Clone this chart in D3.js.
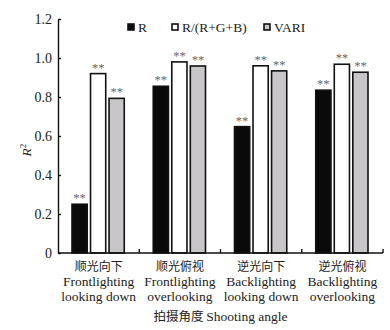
<!DOCTYPE html>
<meta charset="utf-8">
<head>
  <title>R2 by shooting angle</title>
  <script src="https://cdn.jsdelivr.net/npm/d3@7"></script>
  <style>
    body {margin: 0; background: #fff;}
    text {font-family: "Liberation Serif", "Times New Roman", serif;}
    .cjk {font-family: "Noto Sans CJK SC", sans-serif;}
  </style>
</head>
<body>
<div id="chart"></div>
<script>
// data
var categoriesCn = ["顺光向下", "顺光俯视", "逆光向下", "逆光俯视"];
var categoriesEn1 = ["Frontlighting", "Frontlighting", "Backlighting", "Backlighting"];
var categoriesEn2 = ["looking down", "overlooking", "looking down", "overlooking"];
var seriesNames = ["R", "R/(R+G+B)", "VARI"];
var valuesR = [0.25, 0.855, 0.648, 0.835];
var valuesRatio = [0.92, 0.98, 0.96, 0.968];
var valuesVARI = [0.793, 0.959, 0.934, 0.927];
var yTicks = [0, 0.2, 0.4, 0.6, 0.8, 1.0, 1.2];

var colors = ["#0a0a0a", "#ffffff", "#c8c6c8"];

var margins = {top: 19, right: 7, bottom: 77, left: 58};
var width = 390, height = 330;
var innerW = width - margins.left - margins.right;
var innerH = height - margins.top - margins.bottom;

var svg = d3.select("#chart").append("svg")
    .attr("width", width).attr("height", height);
var g = svg.append("g")
    .attr("transform", "translate(" + margins.left + "," + margins.top + ")");

var x = d3.scaleBand().domain(d3.range(categoriesCn.length)).range([0, innerW]).padding(0);
var x1 = d3.scaleBand().domain(seriesNames).range([14, x.bandwidth() - 15]).paddingInner(0.18);
var y = d3.scaleLinear().domain([0, 1.2]).range([innerH, 0]);

var series = [valuesR, valuesRatio, valuesVARI];

var stars = g.append("g").style("opacity", 0.99);

// bars
seriesNames.forEach(function(name, si){
  g.selectAll(".bar" + si)
    .data(series[si])
    .enter().append("rect")
    .attr("x", function(d, i){ return x(i) + x1(name); })
    .attr("y", function(d){ return y(d); })
    .attr("width", x1.bandwidth())
    .attr("height", function(d){ return innerH - y(d); })
    .attr("fill", colors[si])
    .attr("stroke", "#111")
    .attr("stroke-width", 1.6);

  stars.selectAll(".star" + si)
    .data(series[si])
    .enter().append("text")
    .attr("x", function(d, i){ return x(i) + x1(name) + x1.bandwidth() / 2; })
    .attr("y", function(d){ return y(d) - 2; })
    .attr("text-anchor", "middle")
    .attr("fill", "#666")
    .style("font-size", "12.5px")
    .text("**");
});

// y axis
var yAxis = d3.axisLeft(y).tickValues(yTicks).tickSizeInner(-3).tickSizeOuter(0)
  .tickPadding(6)
  .tickFormat(function(d){ return d === 0 ? "0" : d3.format(".1f")(d); });
var ya = g.append("g").call(yAxis);
ya.select(".domain").attr("stroke", "#111").attr("stroke-width", 1.4);
ya.selectAll("line").attr("stroke", "#111").attr("stroke-width", 1.4);
ya.selectAll("text").style("font-size", "14px").attr("fill", "#222")
  .style("font-family", "'Liberation Serif', serif");

// x axis: ticks at group boundaries
g.append("line")
  .attr("x1", 0).attr("x2", innerW).attr("y1", innerH).attr("y2", innerH)
  .attr("stroke", "#111").attr("stroke-width", 1.6);
g.selectAll(".xtick")
  .data(d3.range(1, categoriesCn.length + 1))
  .enter().append("line")
  .attr("x1", function(d){ return d < categoriesCn.length ? x(d) : innerW; })
  .attr("x2", function(d){ return d < categoriesCn.length ? x(d) : innerW; })
  .attr("y1", innerH).attr("y2", innerH - 4)
  .attr("stroke", "#111").attr("stroke-width", 1.4);

// category labels
var labels = g.selectAll(".cat")
  .data(categoriesCn)
  .enter().append("g")
  .attr("transform", function(d, i){ return "translate(" + (x(i) + x.bandwidth() / 2) + "," + innerH + ")"; });
labels.append("text").attr("class", "cjk")
  .attr("y", 18).attr("text-anchor", "middle")
  .style("font-size", "12px").attr("fill", "#222")
  .text(function(d){ return d; });
labels.append("text")
  .attr("y", 33).attr("text-anchor", "middle")
  .style("font-size", "13.5px").attr("fill", "#222")
  .text(function(d, i){ return categoriesEn1[i]; });
labels.append("text")
  .attr("y", 47.5).attr("text-anchor", "middle")
  .style("font-size", "13.5px").attr("fill", "#222")
  .text(function(d, i){ return categoriesEn2[i]; });

// x title
var xt = svg.append("text")
  .attr("x", margins.left + innerW / 2).attr("y", 321)
  .attr("text-anchor", "middle")
  .style("font-size", "13.5px").attr("fill", "#222");
xt.append("tspan").attr("class", "cjk").style("font-size", "12.5px").text("拍摄角度 ");
xt.append("tspan").text("Shooting angle");

// y title
var yt = svg.append("text")
  .attr("transform", "translate(31,150) rotate(-90)")
  .attr("text-anchor", "middle")
  .style("font-size", "13.5px").style("font-style", "italic").attr("fill", "#222");
yt.append("tspan").text("R");
yt.append("tspan").attr("dy", -5).style("font-size", "9px").style("font-style", "normal").text("2");

// legend
var legendX = [128, 172, 264];
var lg = svg.selectAll(".legend")
  .data(seriesNames)
  .enter().append("g")
  .attr("transform", function(d, i){ return "translate(" + legendX[i] + ",24)"; });
lg.append("rect")
  .attr("width", 6).attr("height", 6)
  .attr("fill", function(d, i){ return colors[i]; })
  .attr("stroke", "#111").attr("stroke-width", 1.6);
lg.append("text")
  .attr("x", 10).attr("y", 8)
  .style("font-size", "13.5px").attr("fill", "#222")
  .text(function(d){ return d; });
</script>
</body>
</html>
